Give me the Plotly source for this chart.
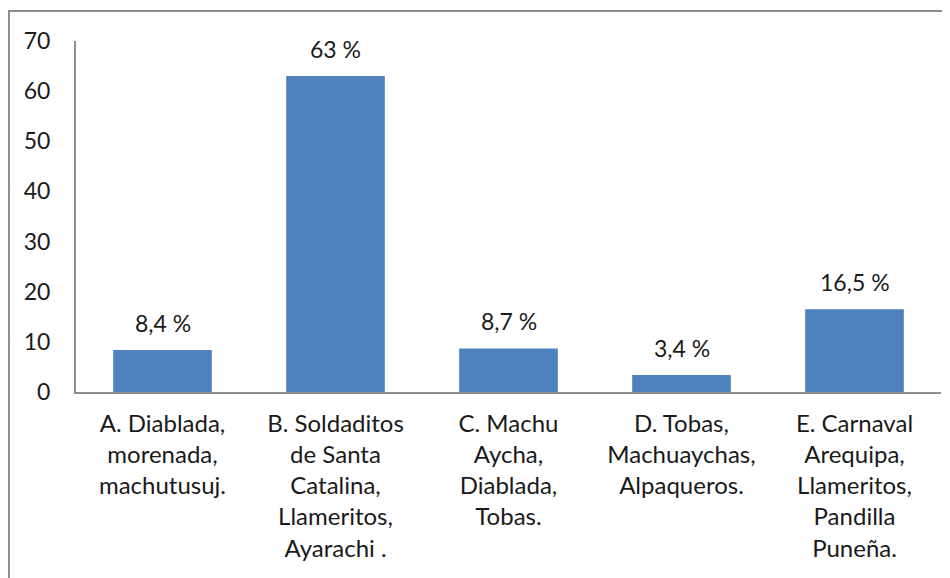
import plotly.graph_objects as go

# categories and values (percent)
categories = [
    "A. Diablada,<br>morenada,<br>machutusuj.",
    "B. Soldaditos<br>de Santa<br>Catalina,<br>Llameritos,<br>Ayarachi .",
    "C. Machu<br>Aycha,<br>Diablada,<br>Tobas.",
    "D. Tobas,<br>Machuaychas,<br>Alpaqueros.",
    "E. Carnaval<br>Arequipa,<br>Llameritos,<br>Pandilla<br>Puneña.",
]
values = [8.4, 63, 8.7, 3.4, 16.5]
value_labels = ["8,4 %", "63 %", "8,7 %", "3,4 %", "16,5 %"]

FONT = "Lato"
TXT = "#1a1a1a"
AXIS = "#8c8c8c"

fig = go.Figure()
fig.add_trace(
    go.Bar(
        x=categories,
        y=values,
        width=0.57,
        marker=dict(color="#4F81BD", line=dict(width=0)),
        hoverinfo="skip",
    )
)

# value labels above the bars
for cat, val, lab in zip(categories, values, value_labels):
    fig.add_annotation(
        x=cat, y=val, text=lab, showarrow=False,
        yanchor="bottom", yshift=11,
        font=dict(family=FONT, size=23, color=TXT),
    )

# outer chart border (left and top visible, rest cropped)
fig.add_shape(
    type="rect", xref="paper", yref="paper",
    x0=-0.0775, x1=1.3, y0=-1.0, y1=1.0855,
    line=dict(color=AXIS, width=2), layer="below",
)

# the page puts the figure 8px in from the top-left corner
fig.update_layout(
    width=950,
    height=578,
    margin=dict(l=68, r=17, t=33, b=194),
    plot_bgcolor="white",
    paper_bgcolor="white",
    showlegend=False,
    bargap=0.43,
    font=dict(family=FONT, size=23, color=TXT),
    xaxis=dict(
        showline=True, linecolor=AXIS, linewidth=2,
        showgrid=False, ticks="", ticklabelstandoff=9,
        tickfont=dict(family=FONT, size=24, color=TXT),
        fixedrange=True, automargin=False,
    ),
    yaxis=dict(
        range=[0, 70], dtick=10, tick0=0,
        showline=True, linecolor=AXIS, linewidth=2,
        showgrid=False, zeroline=False, ticks="",
        ticklabelstandoff=19,
        tickfont=dict(family=FONT, size=23, color=TXT),
        fixedrange=True, automargin=False,
    ),
)

fig.write_html("out.html")
